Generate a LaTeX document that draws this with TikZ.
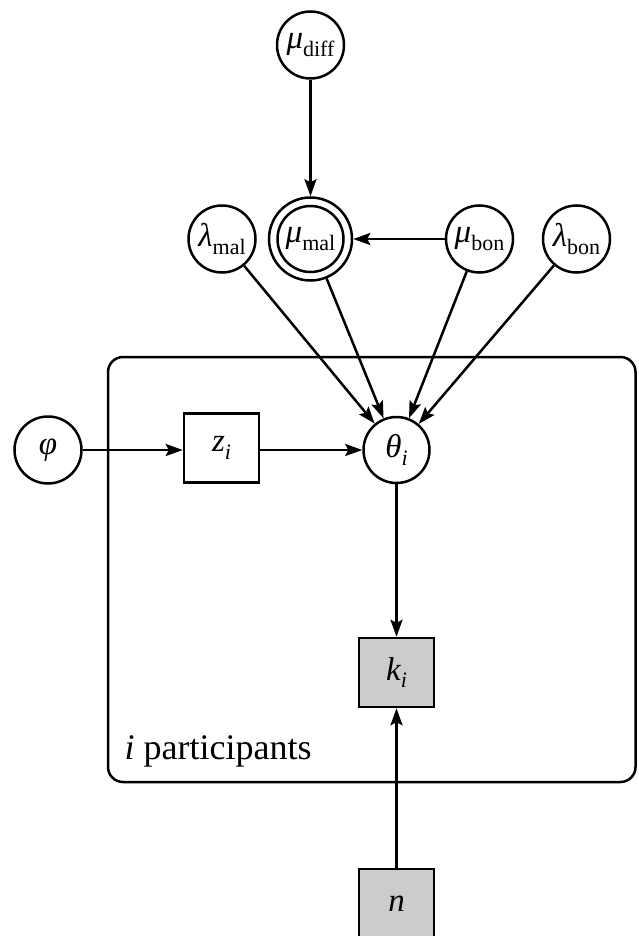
\documentclass[tikz,border=0pt]{standalone}
\usepackage{fontspec}
\setmainfont{Liberation Serif}
\usetikzlibrary{arrows.meta}
\newcommand{\lblsub}[2]{{\itshape #1}\raisebox{-0.22em}{\fontsize{22}{24}\selectfont #2}}
\begin{document}
\begin{tikzpicture}[x=1pt,y=-1pt,
  every node/.style={font=\fontsize{33}{38}\selectfont},
  var/.style={circle,draw,line width=2.5pt,minimum size=67pt,inner sep=0pt},
  dvar/.style={circle,draw,line width=2.5pt,minimum size=83pt,inner sep=0pt},
  detbox/.style={rectangle,draw,line width=2.5pt,minimum width=75pt,minimum height=69pt,inner sep=0pt},
  obsbox/.style={detbox,fill=black!20},
  edge/.style={line width=2.5pt,-{Stealth[length=17pt,width=12pt,inset=3pt]}},
  plate/.style={draw,line width=2.5pt,rounded corners=15pt}
]
\useasboundingbox (0,0) rectangle (638,936);
% plate
\draw[plate] (108,357) rectangle (635.5,782);
\node[anchor=base west,font=\fontsize{36}{40}\selectfont] (lab) at (121,759) {\textit{i} participants};
% nodes
\node[var] (mdiff) at (310.5,45) {\lblsub{μ}{diff}};
\node[var] (lmal) at (222,239) {\lblsub{λ}{mal}};
\node[dvar] (mmal) at (310.5,239) {\lblsub{μ}{mal}};
\draw[line width=2.5pt] (mmal.center) circle (33);
\node[var] (mbon) at (479.5,239) {\lblsub{μ}{bon}};
\node[var] (lbon) at (576.5,239) {\lblsub{λ}{bon}};
\node[var] (phi) at (48,450) {\textit{φ}};
\node[detbox,fill=white] (z) at (221.5,448) {\lblsub{z}{\textit{i}}};
\node[var,minimum size=66pt] (theta) at (396.5,450) {\lblsub{θ}{\textit{i}}};
\node[obsbox] (k) at (396.5,672.5) {\lblsub{k}{\textit{i}}};
\node[obsbox] (n) at (396.5,903.5) {\textit{n}};
% edges
\draw[edge] (mdiff) -- (mmal);
\draw[edge] (mbon) -- (mmal);
\draw[edge] (lmal) -- (theta);
\draw[edge] (mmal) -- (theta);
\draw[edge] (mbon) -- (theta);
\draw[edge] (lbon) -- (theta);
\draw[edge] (phi) -- (phi -| z.west);
\draw[edge] (z.east |- theta) -- (theta);
\draw[edge] (theta) -- (k);
\draw[edge] (n) -- (k);
\end{tikzpicture}
\end{document}
